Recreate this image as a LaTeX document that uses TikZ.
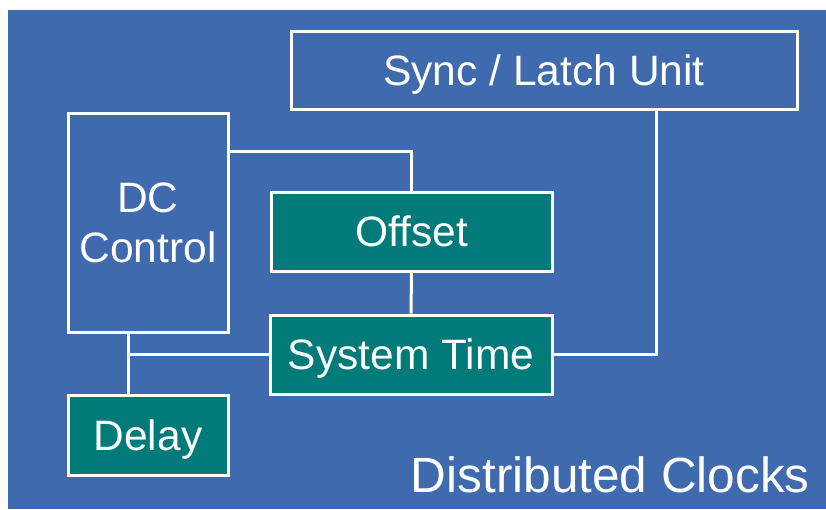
\documentclass[tikz,border=0pt]{standalone}
\usepackage{fontspec}
\setmainfont{Liberation Sans}
\usepackage{tikz}
\usetikzlibrary{positioning,calc}
\definecolor{slideblue}{HTML}{3F6AAE}
\definecolor{regteal}{HTML}{007B79}

\begin{document}
\begin{tikzpicture}[x=1pt,y=-1pt,
  blk/.style={draw=white, line width=3pt, text=white, inner sep=0pt,
    font=\fontsize{42.5}{50}\selectfont, align=center},
  oneline/.style={text height=30.4pt, text depth=0pt},
  reg/.style={blk, oneline, fill=regteal},
  wire/.style={draw=white, line width=3pt}]
\fill[white] (0,0) rectangle (826,509);
\fill[slideblue] (8,10) rectangle (826,509);
\useasboundingbox (0,0) rectangle (826,509);

\node[blk, oneline, minimum width=506pt, minimum height=78pt] (sync) at (544,70) {Sync / Latch Unit};
\node[blk, minimum width=160pt, minimum height=219pt] (dc) at (148,222.5) {DC\\Control};
\node[reg, minimum width=281pt, minimum height=79pt] (offset) at (411.5,231.5) {Offset};
\node[reg, minimum width=282pt, minimum height=79pt] (systime) at (411,354.5) {System Time};
\node[reg, minimum width=160pt, minimum height=80pt] (delay) at (148,435) {Delay};
\node[text=white, inner sep=0pt, anchor=base east, font=\fontsize{49.5}{55}\selectfont] (title) at (810,492) {Distributed Clocks};

\coordinate (tap) at ([xshift=-20pt]dc.south);
\draw[wire] ([yshift=-40pt]dc.north east) -| (offset.north);
\draw[wire] (offset.south) -- (systime.north);
\draw[wire] (systime.east) -| ([xshift=112pt]sync.south);
\draw[wire] (systime.west) -- (systime.west -| tap);
\draw[wire] (tap) -- (tap |- delay.north);
\end{tikzpicture}
\end{document}
